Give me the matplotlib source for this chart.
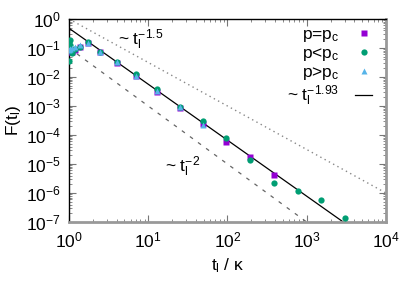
import numpy as np
import matplotlib
matplotlib.use("Agg")
import matplotlib.pyplot as plt
from matplotlib.ticker import LogLocator, NullFormatter

plt.rcParams['font.family'] = ['Liberation Sans', 'DejaVu Sans']
plt.rcParams['mathtext.fontset'] = 'custom'
plt.rcParams['mathtext.rm'] = 'Liberation Sans'
plt.rcParams['mathtext.it'] = 'Liberation Sans'
plt.rcParams['mathtext.default'] = 'regular'

# ---- data ----
x_pc = [1.0117, 1.0234, 1.0469, 1.0938, 1.1875, 1.375, 1.75, 2.5, 4, 7, 13, 25, 49, 97, 193, 385]
y_pc = [0.11, 0.085, 0.075, 0.07, 0.085, 0.11, 0.15, 0.071, 0.031, 0.0104, 0.003, 8.8e-4, 2.4e-4, 5.9e-5, 1.8e-5, 4.2e-6]

x_lt = [1.0059, 1.0117, 1.0234, 1.0469, 1.0938, 1.1875, 1.375, 1.75, 2.5, 4, 7, 13, 25, 49, 97, 193, 385, 769, 1537, 3073]
y_lt = [0.036, 0.17, 0.19, 0.13, 0.067, 0.09, 0.11, 0.155, 0.075, 0.033, 0.013, 0.0037, 9.3e-4, 3.1e-4, 7.7e-5, 1.4e-5, 2.3e-6, 1.17e-6, 5.7e-7, 1.4e-7]

x_gt = [1.0117, 1.0234, 1.0469, 1.0938, 1.1875, 1.375, 1.75, 2.5, 4, 7, 13, 25, 49]
y_gt = [0.085, 0.09, 0.095, 0.1, 0.11, 0.125, 0.15, 0.072, 0.032, 0.0112, 0.0033, 8.9e-4, 2.2e-4]

fit_amp, fit_exp = 0.48, -1.93
ref15_amp, ref15_exp = 1.0, -1.5
ref2_amp, ref2_exp = 0.1, -2.0

fig = plt.figure(figsize=(4.15, 2.91), dpi=100)
ax = fig.add_axes([0.166, 0.237, 0.764, 0.698])

xx = np.logspace(0, 4, 400)
ax.plot(xx, ref15_amp * xx ** ref15_exp, linestyle=(0, (1, 2.5)), color='#888888', lw=1)
ax.plot(xx, ref2_amp * xx ** ref2_exp, linestyle=(0, (3, 5)), color='#666666', lw=0.9)
ax.plot(xx, fit_amp * xx ** fit_exp, color='black', lw=0.9, label=r'~ $t_l^{-1.93}$', zorder=2)

ax.plot(x_pc, y_pc, 's', color='#9400D3', ms=4.2, mec='none', label=r'p=p$_c$', zorder=3)
ax.plot(x_lt, y_lt, 'o', color='#009E73', ms=4.5, mec='none', label=r'p<p$_c$', zorder=3)
ax.plot(x_gt, y_gt, '^', color='#56B4E9', ms=4.5, mec='none', label=r'p>p$_c$', zorder=3)

ax.set_xscale('log')
ax.set_yscale('log')
ax.set_xlim(1, 1e4)
ax.set_ylim(1e-7, 1)
ax.xaxis.set_major_locator(LogLocator(base=10, numticks=10))
ax.yaxis.set_major_locator(LogLocator(base=10, numticks=10))
ax.xaxis.set_minor_locator(LogLocator(base=10, subs=np.arange(2, 10), numticks=20))
ax.yaxis.set_minor_locator(LogLocator(base=10, subs=np.arange(2, 10), numticks=20))
ax.xaxis.set_minor_formatter(NullFormatter())
ax.yaxis.set_minor_formatter(NullFormatter())

ax.tick_params(which='both', direction='in', top=True, right=True, labelsize=12.5, pad=6)
ax.tick_params(which='major', length=5, width=0.8, color='#777777')
ax.tick_params(which='minor', length=2.5, width=0.6, color='#777777')

for s in ['top', 'left']:
    ax.spines[s].set_color('black')
    ax.spines[s].set_linewidth(1.0)
for s in ['bottom', 'right']:
    ax.spines[s].set_color('#999999')
    ax.spines[s].set_linewidth(2.0)

ax.set_xlabel(r'$t_l$ / κ', fontsize=12.5, labelpad=4)
ax.set_ylabel(r'F($t_l$)', fontsize=12.5, labelpad=2)

ax.text(4.2, 0.13, r'~ $t_l^{-1.5}$', fontsize=12.5, ha='left', va='baseline')
ax.text(16.4, 5.3e-6, r'~ $t_l^{-2}$', fontsize=12.5, ha='left', va='baseline')

h, l = ax.get_legend_handles_labels()
order = [1, 2, 3, 0]
leg = ax.legend([h[i] for i in order], [l[i] for i in order], loc='upper right',
                frameon=False, markerfirst=False, fontsize=12.5, handlelength=1.0,
                handletextpad=0.9, labelspacing=0.1, borderaxespad=0.2,
                bbox_to_anchor=(0.99, 1.01))
for t in leg.get_texts():
    t.set_ha('right')

fig.savefig('out.png', dpi=100)
